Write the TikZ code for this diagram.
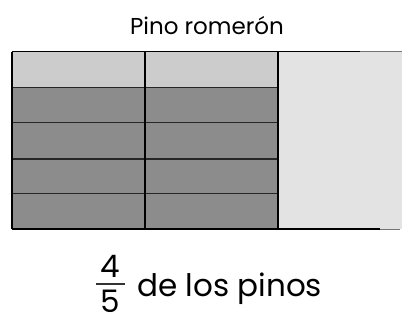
\documentclass[tikz,border=0pt]{standalone}
\usepackage{fontspec}
\setmainfont{Poppins}
\begin{document}
\begin{tikzpicture}[x=1pt,y=-1pt,
  gridline/.style={line width=1.6pt,black},
  rowline/.style={line width=1.3pt,black!85},
  faintline/.style={line width=1.3pt,black!55},
  toprow/.style={fill=black!20},
  darkrow/.style={fill=black!45},
  rightcol/.style={fill=black!11},
  titletext/.style={anchor=base,inner sep=0pt,font=\fontsize{23}{23}\selectfont},
  bigtext/.style={anchor=base,inner sep=0pt,font=\fontsize{31}{31}\selectfont}]
\useasboundingbox (0,0) rectangle (402,320);
% fills
\fill[rightcol] (278,51.7) rectangle (402,229.3);
\fill[toprow] (12,51.7) rectangle (278,87.7);
\fill[darkrow] (12,87.7) rectangle (278,229.3);
% row lines
\foreach \yy in {87.7,122.7,159,193.7} \draw[rowline] (12,\yy) -- (278,\yy);
% outer frame of shaded part
\draw[gridline] (12,51.7) -- (360,51.7);
\draw[faintline] (360,51.7) -- (402,51.7);
\draw[gridline] (12,229.3) -- (380,229.3);
\draw[faintline] (380,229.3) -- (400,229.3);
\draw[gridline] (12,51.7) -- (12,229.3);
\draw[gridline] (145,51.7) -- (145,229.3);
\draw[gridline] (278,51.7) -- (278,229.3);
% texts
\node[titletext] (title) at (207,35) {Pino romerón};
\node[bigtext] (num) at (110,277.5) {4};
\node[bigtext] (den) at (110,313) {5};
\draw[line width=1.2pt,black!80] (96,284) -- (125,284);
\node[bigtext,anchor=base west] (label) at (137,297) {de los pinos};
\end{tikzpicture}
\end{document}
